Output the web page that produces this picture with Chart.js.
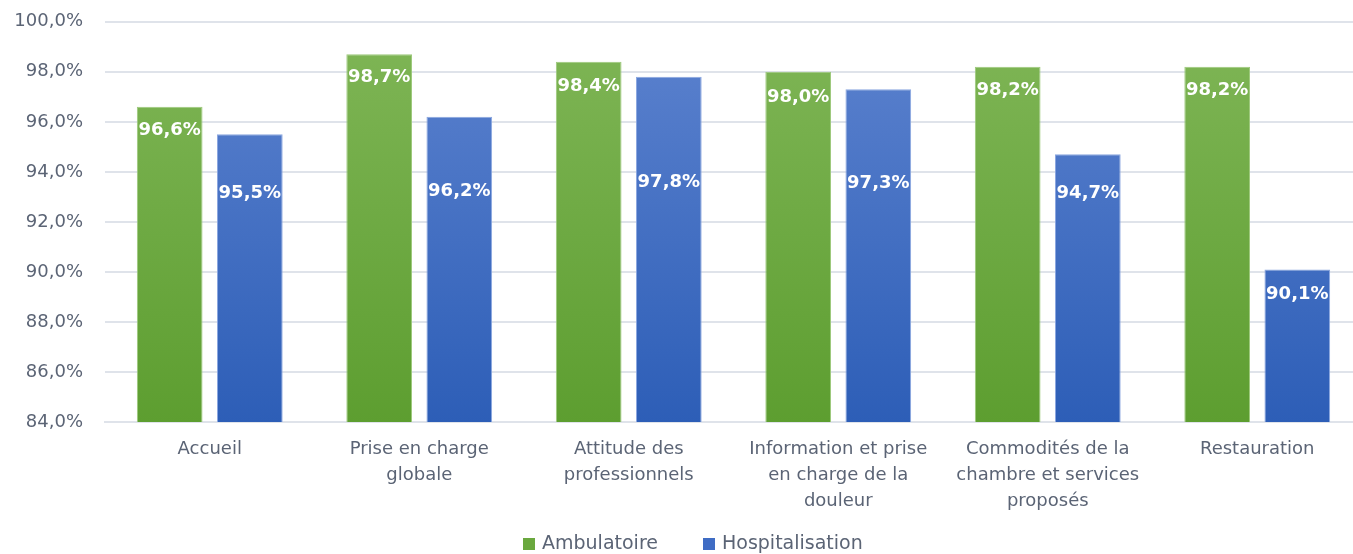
<!DOCTYPE html>
<html lang="fr">
<head>
<meta charset="UTF-8">
<title>Satisfaction Ambulatoire / Hospitalisation</title>
<script src="https://cdn.jsdelivr.net/npm/chart.js"></script>
<style>
    html, body { margin: 0; padding: 0; background: #ffffff; overflow: hidden; }
    #wrap { width: 1362px; height: 565px; margin-top: -11px; }
</style>
</head>
<body>
<div id="wrap"><canvas id="chart"></canvas></div>
<script>
    // categories (multi-ligne comme sur l'original)
    const categories = [
        ["Accueil"],
        ["Prise en charge", "globale"],
        ["Attitude des", "professionnels"],
        ["Information et prise", "en charge de la", "douleur"],
        ["Commodités de la", "chambre et services", "proposés"],
        ["Restauration"]
    ];
    const ambulatoire = [96.6, 98.7, 98.4, 98.0, 98.2, 98.2];
    const hospitalisation = [95.5, 96.2, 97.8, 97.3, 94.7, 90.1];
    const seriesNames = ["Ambulatoire", "Hospitalisation"];
    const yTicks = [84, 86, 88, 90, 92, 94, 96, 98, 100];

    const textColor = "#5b6475";
    const gridColor = "#dfe3ea";
    const greenTop = "#80b657", greenBottom = "#5d9e30";
    const blueTop = "#5d83cf", blueBottom = "#2d5eb7";

    // décalage des étiquettes sous le haut de la barre (px)
    const labelOffsets = [
        [23, 23, 25, 26, 24, 24],
        [59, 74, 106, 94, 39, 25]
    ];

    function fmt(v, d) {
        return v.toFixed(d).replace(".", ",") + "%";
    }

    function gradient(ctx, area, top, bottom) {
        if (!area) return top;
        const g = ctx.createLinearGradient(0, area.top, 0, area.bottom);
        g.addColorStop(0, top);
        g.addColorStop(1, bottom);
        return g;
    }

    const labelsPlugin = {
        id: "barLabels",
        afterDatasetsDraw(chart) {
            const ctx = chart.ctx;
            ctx.save();
            ctx.fillStyle = "#ffffff";
            ctx.font = "bold 18px 'DejaVu Sans'";
            ctx.textAlign = "center";
            ctx.textBaseline = "middle";
            chart.data.datasets.forEach((ds, i) => {
                chart.getDatasetMeta(i).data.forEach((bar, j) => {
                    ctx.fillText(fmt(ds.data[j], 1), bar.x, bar.y + labelOffsets[i][j]);
                });
            });
            ctx.restore();
        },
        afterDraw(chart) {
            // légende en bas (11px de décalage du canvas)
            const ctx = chart.ctx;
            const xs = [523, 703];
            const y = 555;
            ctx.save();
            ctx.font = "19px 'DejaVu Sans'";
            ctx.textBaseline = "middle";
            ctx.textAlign = "left";
            seriesNames.forEach((name, i) => {
                ctx.fillStyle = i === 0 ? "#6aa83e" : "#3f6cc4";
                ctx.fillRect(xs[i], y - 6, 12, 12);
                ctx.fillStyle = textColor;
                ctx.fillText(name, xs[i] + 19, y);
            });
            ctx.restore();
        }
    };

    new Chart(document.getElementById("chart"), {
        type: "bar",
        data: {
            labels: categories,
            datasets: [
                {
                    label: seriesNames[0],
                    data: ambulatoire,
                    backgroundColor: c => gradient(c.chart.ctx, c.chart.chartArea, greenTop, greenBottom),
                    borderColor: "#9cc97a",
                    borderWidth: 1
                },
                {
                    label: seriesNames[1],
                    data: hospitalisation,
                    backgroundColor: c => gradient(c.chart.ctx, c.chart.chartArea, blueTop, blueBottom),
                    borderColor: "#8aa6e0",
                    borderWidth: 1
                }
            ]
        },
        options: {
            responsive: true,
            maintainAspectRatio: false,
            animation: false,
            categoryPercentage: 0.765,
            barPercentage: 0.82,
            layout: { padding: { top: 9, right: 0, bottom: 30, left: 0 } },
            plugins: {
                legend: { display: false },
                tooltip: { enabled: false }
            },
            scales: {
                x: {
                    grid: { display: false, drawTicks: false },
                    border: { display: true, color: gridColor, width: 2 },
                    ticks: {
                        color: textColor,
                        font: { family: "'DejaVu Sans'", size: 18, lineHeight: 1.42 },
                        padding: 15,
                        maxRotation: 0,
                        autoSkip: false
                    },
                    afterFit(scale) { scale.height = 102; }
                },
                y: {
                    min: 84,
                    max: 100,
                    afterBuildTicks(scale) { scale.ticks = yTicks.map(v => ({ value: v })); },
                    grid: { color: gridColor, lineWidth: 2, drawTicks: false },
                    border: { display: false },
                    ticks: {
                        color: textColor,
                        font: { family: "'DejaVu Sans'", size: 18 },
                        padding: 22,
                        callback: v => fmt(v, 1)
                    },
                    afterFit(scale) { scale.width = 105; }
                }
            }
        },
        plugins: [labelsPlugin]
    });
</script>
</body>
</html>
